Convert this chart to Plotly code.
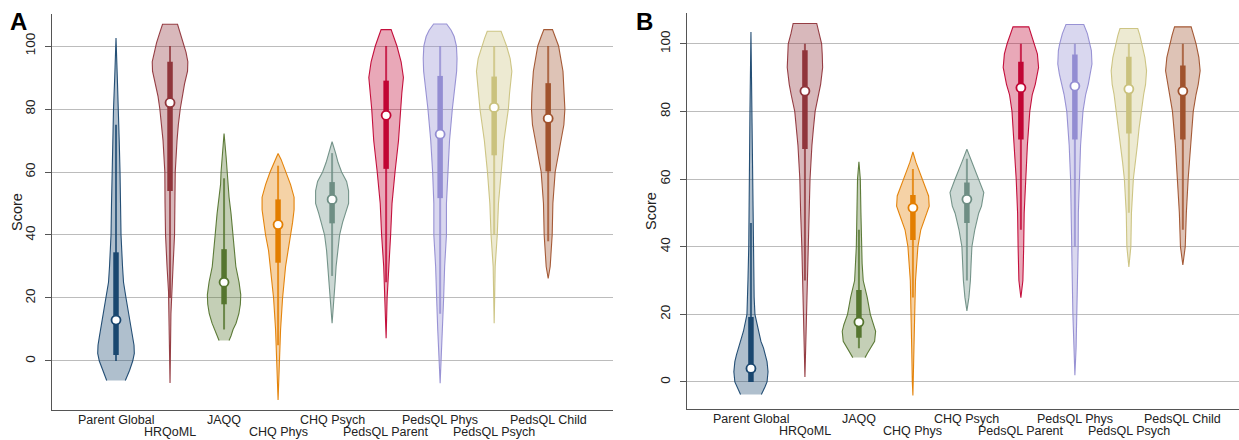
import plotly.graph_objects as go

# ---------------- data ----------------
categories = ["Parent Global", "HRQoML", "JAQQ", "CHQ Phys", "CHQ Psych",
              "PedsQL Parent", "PedsQL Phys", "PedsQL Psych", "PedsQL Child"]
colors = [(26, 71, 111), (144, 53, 59), (85, 117, 47), (227, 126, 0), (110, 142, 132),
          (193, 5, 52), (147, 141, 210), (202, 194, 126), (160, 82, 45)]
yticks = [0, 20, 40, 60, 80, 100]

# Panel A summary statistics
median_A = [13, 82, 25, 43.3, 51.3, 78, 72, 80.5, 77]
q1_A = [1.9, 54, 18, 31.2, 43.7, 61, 51.7, 65.3, 60.2]
q3_A = [34.5, 95, 35.5, 51.3, 56.8, 89, 90.5, 90.3, 88.2]
wlo_A = [0, 20, 10, 5, 27, 25, 15, 40, 38]
whi_A = [75, 100, 58, 62, 66, 100, 100, 100, 100]

# Panel B summary statistics
median_B = [4, 86, 17.7, 51.5, 54, 87, 87.5, 86.6, 86]
q1_B = [0, 68.9, 13.1, 42, 47, 71.7, 71.7, 73.5, 71.7]
q3_B = [19.2, 98.1, 27.2, 55.3, 59, 94.7, 96.8, 96.2, 93.6]
wlo_B = [0, 30, 10, 25, 30, 45, 40, 50, 45]
whi_B = [47, 100, 45, 63, 66, 100, 100, 100, 100]

# Density profiles (score level, relative half-width)
dens_y_A = [
    [-6.2, -3, 0, 2.4, 5, 8, 10, 15, 20, 25, 30, 40, 50, 60, 70, 80, 90, 102.5],
    [-7, 0, 10, 15, 22, 30, 40, 50, 60, 70, 75, 80, 84, 88, 92, 95, 98, 101, 104, 106.9],
    [6.5, 8, 10, 12, 15, 18, 21, 25, 30, 35, 40, 46.7, 52, 56, 60, 65, 72.2],
    [-12.4, -5, 0, 10, 20, 25, 30, 35, 40, 44, 48, 52, 56, 60, 62, 64, 65.9],
    [12, 20, 25, 30, 35, 40, 44, 47, 50, 54, 57, 60, 63, 66, 69.6],
    [7.2, 15, 20, 30, 40, 50, 60, 70, 80, 85, 90, 95, 100, 103, 105.2],
    [-7.1, 0, 10, 20, 30, 40, 50, 60, 70, 80, 85, 88, 92, 96, 100, 103, 105, 107],
    [12, 20, 30, 40, 50, 60, 70, 80, 85, 92, 96, 100, 102.5, 104.7],
    [26.2, 30, 40, 50, 60, 65, 70, 75, 80, 85, 92, 100, 103, 105.2],
]
dens_w_A = [
    [9.3, 13.5, 16.7, 18.3, 18, 16.5, 15.5, 12.5, 10, 7.5, 6.5, 5, 4.5, 4, 3.2, 2.5, 1.3, 0],
    [0, 0.4, 0.7, 0.9, 1.5, 3, 4.5, 5, 5.2, 7, 8.3, 10.2, 12, 14.5, 17.5, 17.8, 16, 13.5, 10.5, 7.5],
    [5, 7, 9, 12, 14.8, 16.3, 16.7, 15, 11.8, 10, 8.9, 7, 5, 3.5, 3, 2, 0],
    [0, 0.6, 1.2, 2.5, 4.5, 6, 7.5, 9.5, 12.5, 14.5, 16, 16, 12.5, 8, 5.5, 3, 0],
    [0, 2, 3, 4, 5.5, 7.5, 10.5, 13.5, 16.5, 16.5, 14.5, 9.5, 6, 3.5, 0],
    [0, 0.6, 1, 2.4, 4.5, 5.9, 8.9, 12.4, 14.4, 15.7, 17.3, 15, 10.8, 7.5, 5],
    [0, 1.3, 2.4, 3.5, 4.5, 6.3, 6.3, 7.5, 9.4, 12.2, 13.8, 15, 16.5, 16.9, 16.3, 14, 11, 6.5],
    [0, 0.5, 1, 3.1, 4.3, 6.7, 9.8, 14.2, 15.4, 17.7, 16, 12.4, 9.5, 6.9],
    [0, 2, 4, 4.7, 7, 9.8, 13, 15.7, 16.7, 16.3, 14.8, 10.4, 7, 4.3],
]
dens_y_B = [
    [-3.7, -1.5, 0, 3, 6, 8, 10, 12, 15, 20, 25, 30, 40, 50, 60, 80, 103.5],
    [1.5, 10, 20, 30, 40, 50, 60, 70, 75, 80, 85, 88, 93, 97, 100, 103, 106],
    [7.2, 8.5, 10, 12, 15, 17, 20, 25, 30, 35, 40, 50, 60, 65.1],
    [-4, 0, 10, 20, 30, 40, 45, 49.9, 52, 55, 60, 63, 65, 68],
    [21, 25, 30, 35, 40, 45, 49.9, 52, 56, 60, 62.5, 65, 68.8],
    [24.9, 30, 40, 50, 60, 70, 80, 85, 88, 93, 97, 100, 102.5, 105],
    [2, 10, 20, 30, 40, 50, 60, 70, 80, 85, 88, 91, 94, 98, 100, 103, 105.7],
    [34, 40, 50, 60, 65, 70, 75, 80, 85, 88, 92, 96, 100, 102.5, 104.5],
    [34.6, 40, 50, 60, 70, 80, 85, 88, 92, 96, 100, 102.5, 105],
]
dens_w_B = [
    [10.4, 14, 16.1, 17.1, 16.1, 14.5, 12.6, 10, 7.5, 4, 3.2, 3, 2.2, 2, 1.6, 1, 0],
    [0, 0.6, 1.2, 2, 3.1, 4.3, 5.1, 7, 8.5, 10.2, 13.8, 15.7, 17.7, 17.3, 16.7, 14, 11.8],
    [6.1, 8.5, 11.2, 15.7, 16.7, 15, 11.4, 8.3, 4.3, 3.2, 2.6, 2, 1.4, 0],
    [0, 0.6, 1.2, 1.8, 2.6, 5, 7.9, 13.8, 16.3, 15.7, 8.9, 5.5, 3, 0],
    [0, 2, 3.5, 4.2, 5, 7.9, 11.8, 14.6, 16.9, 11.8, 8, 5, 0],
    [0, 2, 2.8, 3.3, 4.7, 6.5, 8.9, 11.4, 14.4, 17.7, 16.5, 13.8, 10.8, 7.9],
    [0, 1.2, 2, 2.6, 3.3, 3.5, 4.3, 5.7, 8.1, 10.8, 13.4, 15.5, 17.1, 16.5, 15.2, 12.5, 8.9],
    [0, 2, 2.6, 4.5, 6.3, 8.5, 10.2, 12.4, 14.8, 16.7, 17.7, 16, 13.2, 11, 8.9],
    [0, 2.4, 3.5, 5.3, 7.5, 10.4, 13.2, 15.4, 17.3, 16, 13.2, 10.8, 8.3],
]

WIDTH_SCALE = 1 / 54.0   # relative half-width -> category units
FONT = "Liberation Sans, Arial, sans-serif"

fig = go.Figure()


def rgba(c, a):
    return "rgba(%d,%d,%d,%s)" % (c[0], c[1], c[2], a)


def add_panel(xa, ya, dy, dw, med, q1, q3, lo, hi):
    for i, cat in enumerate(categories):
        pos = i + 1
        c = colors[i]
        ys = dy[i]
        ws = [w * WIDTH_SCALE for w in dw[i]]
        xs = [pos - w for w in ws] + [pos + w for w in reversed(ws)]
        yy = list(ys) + list(reversed(ys))
        fig.add_trace(go.Scatter(x=xs, y=yy, mode="lines", fill="toself",
                                 fillcolor=rgba(c, 0.35), line=dict(color=rgba(c, 0.95), width=1.1),
                                 xaxis=xa, yaxis=ya, hoverinfo="skip", showlegend=False))
        # whisker
        fig.add_trace(go.Scatter(x=[pos, pos], y=[lo[i], hi[i]], mode="lines",
                                 line=dict(color=rgba(c, 0.8), width=2),
                                 xaxis=xa, yaxis=ya, hoverinfo="skip", showlegend=False))
        # box
        fig.add_trace(go.Scatter(x=[pos, pos], y=[q1[i], q3[i]], mode="lines",
                                 line=dict(color=rgba(c, 1), width=5.5),
                                 xaxis=xa, yaxis=ya, hoverinfo="skip", showlegend=False))
        # median
        fig.add_trace(go.Scatter(x=[pos], y=[med[i]], mode="markers",
                                 marker=dict(size=9, color="white", line=dict(color=rgba(c, 1), width=1.8)),
                                 xaxis=xa, yaxis=ya, name=cat, showlegend=False))


add_panel("x", "y", dens_y_A, dens_w_A, median_A, q1_A, q3_A, wlo_A, whi_A)
add_panel("x2", "y2", dens_y_B, dens_w_B, median_B, q1_B, q3_B, wlo_B, whi_B)

W, H = 1239, 440
AXC = "#555555"
GRIDC = "#bcbcbc"


def xaxis_cfg(dom, rng, anchor):
    return dict(domain=dom, range=rng, anchor=anchor, showline=True, linecolor=AXC, linewidth=1.3,
                showgrid=False, zeroline=False, showticklabels=False, ticks="",
                tickvals=list(range(1, len(categories) + 1)))


def yaxis_cfg(dom, rng, anchor):
    return dict(domain=dom, range=rng, anchor=anchor, showline=True, linecolor=AXC, linewidth=1.3,
                showgrid=True, gridcolor=GRIDC, gridwidth=1.3, zeroline=False,
                tickvals=yticks, ticktext=[str(v) for v in yticks], ticks="outside", ticklen=6,
                tickcolor=AXC, tickwidth=1.2, tickangle=-90,
                tickfont=dict(family=FONT, size=13.5, color="#222"), ticklabelstandoff=4)


layout = dict(
    width=W, height=H, margin=dict(l=0, r=0, t=0, b=0),
    paper_bgcolor="white", plot_bgcolor="white",
    xaxis=xaxis_cfg([52 / W, 613 / W], [-0.185, 10.2], "y"),
    yaxis=yaxis_cfg([1 - 410 / H, 1 - 14 / H], [-15.56, 110.16], "x"),
    xaxis2=xaxis_cfg([686.7 / W, 1.0], [-0.19, 10.04], "y2"),
    yaxis2=yaxis_cfg([1 - 409.3 / H, 1 - 13 / H], [-8.08, 109.1], "x2"),
    font=dict(family=FONT, color="#222"),
)
fig.update_layout(**layout)

ann = []
for xref, ytop, ybot in (("x", 419.5, 431.5), ("x2", 418.5, 430.5)):
    for i, cat in enumerate(categories):
        ypx = ytop if i % 2 == 0 else ybot
        ann.append(dict(x=i + 1, xref=xref, y=1 - ypx / H, yref="paper", text=cat, showarrow=False,
                        xanchor="center", yanchor="middle", font=dict(family=FONT, size=12.5, color="#222")))
for xpx, ypx in ((17, 212), (651, 211)):
    ann.append(dict(x=xpx / W, xref="paper", y=1 - ypx / H, yref="paper", text="Score", textangle=-90,
                    showarrow=False, xanchor="center", yanchor="middle",
                    font=dict(family=FONT, size=14.5, color="#222")))
for lbl, xpx in (("A", 18), ("B", 644)):
    ann.append(dict(x=xpx / W, xref="paper", y=1 - 21 / H, yref="paper", text="<b>%s</b>" % lbl,
                    showarrow=False, xanchor="center", yanchor="middle",
                    font=dict(family=FONT, size=24, color="black")))
fig.update_layout(annotations=ann)

fig.write_html("out.html", config={"displayModeBar": False},
               post_script="document.body.style.margin='0px';document.body.style.padding='0px';"
                           "document.body.style.overflow='hidden';")
